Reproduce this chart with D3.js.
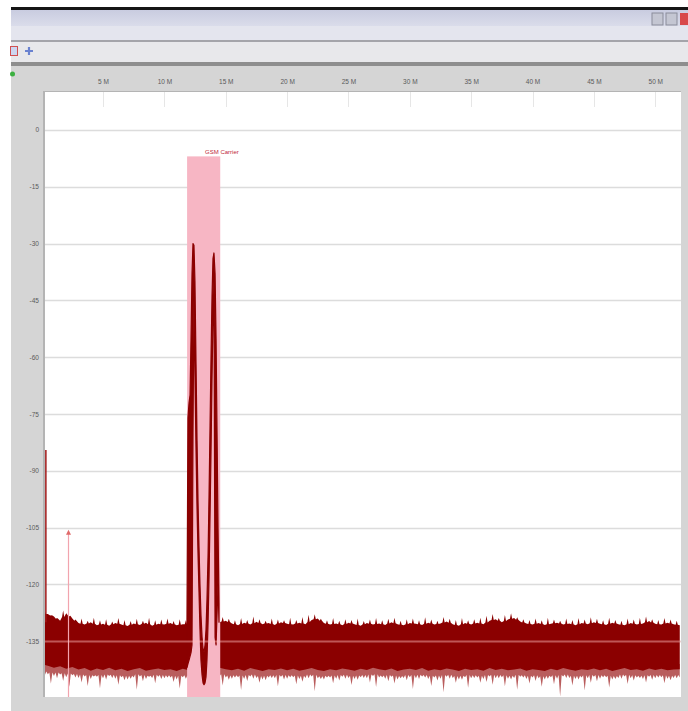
<!DOCTYPE html>
<html>
<head>
<meta charset="utf-8">
<script src="https://cdn.jsdelivr.net/npm/d3@7"></script>
<style>
  html, body { margin: 0; padding: 0; background: #fff; }
  svg { display: block; font-family: "Liberation Sans", Arial, sans-serif; }
</style>
</head>
<body>
<div id="chart"></div>
<script>
// ---- data ----
var freqTicks = [5, 10, 15, 20, 25, 30, 35, 40, 45, 50];            // MHz
var levelTicks = [0, -15, -30, -45, -60, -75, -90, -105, -120, -135]; // dB

// noise floor envelope, bins every 0.5 MHz starting at 0.5 MHz
var noiseTop = [
  -127.8,-128.5,-129.6,-127.6,-129.0,-130.2,-130.6,-130.0,-130.8,-130.4,
  -130.9,-130.2,-130.6,-131.0,-130.3,-130.7,-130.1,-130.9,-130.4,-130.6,
  -130.2,-130.8,-130.5,-130.6,-130.4,-130.7,-130.2,-130.5,-130.0,-129.6,
  -130.3,-130.8,-130.1,-130.6,-129.9,-130.5,-130.2,-130.7,-130.0,-130.4,
  -130.6,-130.1,-130.5,-129.4,-129.0,-130.2,-130.6,-130.3,-130.8,-130.1,
  -130.5,-130.9,-130.2,-130.6,-130.3,-130.7,-130.0,-130.5,-130.8,-130.2,
  -130.4,-130.7,-130.1,-130.6,-130.3,-129.8,-130.5,-130.9,-130.2,-130.6,
  -130.1,-130.5,-129.6,-129.2,-130.0,-129.3,-128.9,-129.8,-130.3,-130.6,
  -130.2,-130.7,-130.4,-130.1,-130.6,-130.3,-130.8,-130.2,-130.5,-130.0,
  -130.4,-130.7,-130.1,-130.5,-130.8,-130.2,-130.6,-130.3,-129.7,-130.4,
  -130.6,-130.1,-130.5,-130.8
];
var noiseBottom = [
  -141.5,-142.0,-141.6,-142.3,-141.8,-142.5,-142.1,-142.8,-142.2,-142.6,
  -142.0,-142.7,-142.3,-142.9,-142.4,-142.1,-142.8,-142.5,-142.2,-142.6,
  -142.4,-142.9,-142.3,-142.7,-142.5,-142.8,-142.2,-142.6,-142.0,-142.4,
  -142.7,-142.3,-142.8,-142.1,-142.5,-142.9,-142.4,-142.6,-142.2,-142.7,
  -142.3,-142.8,-142.5,-142.1,-142.6,-142.9,-142.4,-142.7,-142.2,-142.5,
  -142.8,-142.3,-142.6,-142.0,-142.4,-142.7,-142.2,-142.9,-142.5,-142.3,
  -142.6,-142.1,-142.8,-142.4,-142.7,-142.2,-142.5,-142.9,-142.3,-142.6,
  -142.4,-142.8,-142.1,-142.6,-142.3,-142.7,-142.5,-142.2,-142.8,-142.4,
  -142.6,-142.9,-142.3,-142.7,-142.1,-142.5,-142.8,-142.4,-142.6,-142.2,
  -142.7,-142.3,-142.9,-142.5,-142.1,-142.6,-142.4,-142.8,-142.2,-142.6,
  -142.3,-142.7,-142.5,-142.4
];
// peaks between the bins above (bins every 0.5 MHz starting at 0.25 MHz)
var noisePeaks = [
  -127.0,-128.2,-128.9,-126.9,-128.4,-129.3,-129.0,-129.6,-128.8,-129.5,
  -129.2,-129.8,-128.9,-129.4,-129.7,-129.1,-129.6,-128.8,-129.5,-129.3,
  -129.0,-129.7,-129.2,-129.5,-128.9,-129.6,-129.3,-128.7,-129.4,-128.6,
  -129.1,-129.5,-128.9,-129.4,-128.5,-129.2,-129.6,-129.0,-129.3,-129.5,
  -128.8,-129.4,-128.6,-128.0,-127.9,-129.1,-129.5,-128.9,-129.6,-129.2,
  -129.4,-129.0,-129.7,-129.3,-128.9,-129.5,-129.1,-128.8,-129.6,-129.2,
  -129.0,-129.5,-128.7,-129.3,-129.6,-128.6,-129.1,-129.4,-128.9,-129.5,
  -129.2,-128.8,-128.3,-127.8,-128.9,-128.1,-127.6,-128.7,-129.2,-129.4,
  -129.0,-129.5,-128.8,-129.3,-129.6,-129.0,-129.4,-128.9,-129.3,-128.7,
  -129.1,-129.5,-128.8,-129.4,-129.6,-129.0,-129.3,-128.8,-128.5,-129.2,
  -129.4,-128.9,-129.3,-129.6
];
// downward spikes below the band (same 0.25 MHz offset bins)
var noiseDips = [
  -144.0,-146.2,-144.8,-145.5,-147.0,-144.6,-145.9,-146.8,-144.3,-147.4,
  -145.1,-144.7,-146.5,-145.3,-144.9,-147.8,-145.6,-144.4,-146.1,-145.0,
  -144.6,-145.8,-147.5,-144.9,-145.4,-146.3,-144.5,-145.9,-144.8,-146.7,
  -145.2,-144.6,-147.9,-145.5,-144.9,-146.0,-145.3,-144.7,-146.9,-145.1,
  -144.5,-146.4,-145.7,-144.8,-148.2,-145.0,-144.6,-146.1,-145.4,-144.9,
  -146.6,-145.2,-144.7,-145.9,-147.1,-144.5,-145.6,-146.2,-144.8,-145.3,
  -147.6,-145.0,-144.6,-146.8,-145.4,-148.5,-144.9,-146.0,-145.2,-147.3,
  -144.7,-146.0,-145.8,-146.5,-144.8,-146.9,-145.1,-147.8,-144.6,-146.2,
  -145.5,-147.0,-144.9,-146.4,-149.6,-144.7,-146.7,-145.1,-148.0,-146.0,
  -145.6,-144.5,-147.2,-145.0,-144.9,-146.3,-145.4,-144.7,-145.9,-145.2,
  -144.6,-146.1,-145.3,-144.8
];

// the carrier itself: min/max envelope per display column
var carrierFreq = [11.84,11.92,12.01,12.09,12.17,12.25,12.33,12.41,12.49,12.58,12.66,12.74,
                   12.82,12.90,12.98,13.07,13.15,13.23,13.31,13.39,13.47,13.56,13.64,13.72,
                   13.80,13.88,13.96,14.04,14.13,14.21,14.29,14.37,14.45];
var carrierHi = [-130,-76,-72,-70,-55,-38,-30,-30.5,-40,-62,-82,-98,
                 -110,-120,-128,-134,-137,-138,-136,-132,-124,-112,-96,-78,
                 -60,-44,-34,-32.5,-38,-55,-80,-105,-125];
var carrierLo = [-142,-141,-140,-139,-138,-136,-80,-45,-65,-85,-100,-112,
                 -122,-132,-140,-144,-146,-146.5,-146,-144.5,-140,-130,-118,-102,
                 -85,-66,-50,-40,-134,-136,-128,-120,-130];

var carrierBand = [11.85, 14.55];   // MHz
var carrierBandTop = -7;            // dB
var carrierLabel = "GSM Carrier";

var edgeSpike = { freq: 0.3, level: -84.5 };
var marker = { freq: 2.14, level: -106.5 };

// ---- layout ----
var W = 688, H = 711;
var plot = { left: 45, right: 681, top: 92, bottom: 697 };

var svg = d3.select("#chart").append("svg").attr("width", W).attr("height", H);

// window chrome
svg.append("rect").attr("x", 0).attr("y", 0).attr("width", W).attr("height", H).attr("fill", "#fff");
svg.append("rect").attr("x", 11).attr("y", 7).attr("width", W - 11).attr("height", 3).attr("fill", "#151515");
var grad = svg.append("defs").append("linearGradient").attr("id", "title").attr("x1", 0).attr("y1", 0).attr("x2", 0).attr("y2", 1);
grad.append("stop").attr("offset", "0%").attr("stop-color", "#c9cce0");
grad.append("stop").attr("offset", "100%").attr("stop-color", "#dadcea");
svg.append("rect").attr("x", 11).attr("y", 10).attr("width", W - 11).attr("height", 16).attr("fill", "url(#title)");
svg.append("rect").attr("x", 11).attr("y", 26).attr("width", W - 11).attr("height", 14).attr("fill", "#e4e5ee");
svg.append("rect").attr("x", 11).attr("y", 40).attr("width", W - 11).attr("height", 2).attr("fill", "#a4a4aa");
svg.append("rect").attr("x", 11).attr("y", 42).attr("width", W - 11).attr("height", 20).attr("fill", "#e8e8eb");
svg.append("rect").attr("x", 11).attr("y", 62).attr("width", W - 11).attr("height", 4).attr("fill", "#8e8e8e");
svg.append("rect").attr("x", 11).attr("y", 66).attr("width", W - 11).attr("height", H - 66).attr("fill", "#d5d5d5");
// title bar buttons
svg.append("rect").attr("x", 652).attr("y", 13).attr("width", 11).attr("height", 12).attr("fill", "#c4c6d2").attr("stroke", "#8a8c9a");
svg.append("rect").attr("x", 666).attr("y", 13).attr("width", 11).attr("height", 12).attr("fill", "#c4c6d2").attr("stroke", "#8a8c9a");
svg.append("rect").attr("x", 680).attr("y", 13).attr("width", 8).attr("height", 12).attr("fill", "#d8484a");
// toolbar icons
svg.append("rect").attr("x", 10.5).attr("y", 46.5).attr("width", 7).attr("height", 9).attr("fill", "#cdd6f0").attr("stroke", "#d05050");
svg.append("path").attr("d", "M25,51 h8 M29,47 v8").attr("stroke", "#6a82d0").attr("stroke-width", 2.2);
svg.append("circle").attr("cx", 12.5).attr("cy", 74).attr("r", 2.5).attr("fill", "#3cb040");

// plot background and frame
svg.append("rect").attr("x", plot.left - 2).attr("y", plot.top - 1).attr("width", plot.right - plot.left + 2).attr("height", plot.bottom - plot.top + 1).attr("fill", "#b4b4b4");
svg.append("rect").attr("x", plot.left).attr("y", plot.top).attr("width", plot.right - plot.left).attr("height", plot.bottom - plot.top).attr("fill", "#fff");

var x = d3.scaleLinear().domain([0.27, 52.1]).range([plot.left, plot.right]);
var y = d3.scaleLinear().domain([-150, 10]).range([698, plot.top]);

svg.append("clipPath").attr("id", "clip").append("rect")
  .attr("x", plot.left).attr("y", plot.top).attr("width", plot.right - plot.left).attr("height", plot.bottom - plot.top);
var g = svg.append("g").attr("clip-path", "url(#clip)");

// grid
g.selectAll("line.grid").data(levelTicks).enter().append("line").attr("class", "grid")
  .attr("x1", plot.left).attr("x2", plot.right)
  .attr("y1", function(d) { return Math.round(y(d)) + 0.5; })
  .attr("y2", function(d) { return Math.round(y(d)) + 0.5; })
  .attr("stroke", "#dcdcdc").attr("stroke-width", 1.3);
g.selectAll("line.ftick").data(freqTicks).enter().append("line").attr("class", "ftick")
  .attr("x1", function(d) { return Math.round(x(d)) + 0.5; })
  .attr("x2", function(d) { return Math.round(x(d)) + 0.5; })
  .attr("y1", plot.top).attr("y2", plot.top + 15)
  .attr("stroke", "#e6e6e6");

// axes labels
var xAxis = d3.axisTop(x).tickValues(freqTicks).tickSize(0).tickFormat(function(d) { return d + " M"; });
var xa = svg.append("g").attr("transform", "translate(0," + 87 + ")").call(xAxis);
xa.select(".domain").remove();
xa.selectAll("text").attr("font-size", 6.5).attr("fill", "#5a5a5a").attr("font-family", "Liberation Sans, Arial, sans-serif");

var yAxis = d3.axisLeft(y).tickValues(levelTicks).tickSize(0).tickPadding(4).tickFormat(function(d) { return String(d); });
var ya = svg.append("g").attr("transform", "translate(" + (plot.left - 2) + ",0)").call(yAxis);
ya.select(".domain").remove();
ya.selectAll("text").attr("font-size", 6.5).attr("fill", "#5a5a5a").attr("font-family", "Liberation Sans, Arial, sans-serif");

// noise floor: dense band, peaks and dips as narrow spikes between the bins
var w = 0.09; // half width of a spike, MHz
var upper = [{ f: 0.27, v: -127.2 }];
var lower = [{ f: 0.27, v: -141.3 }];
var fringe = [{ f: 0.27, v: -141.3 }];
noiseTop.forEach(function(v, i) {
  var fc = 0.25 + i * 0.5, prevTop = i ? noiseTop[i - 1] : v, prevBot = i ? noiseBottom[i - 1] : noiseBottom[i];
  upper.push({ f: fc - w, v: (prevTop + v) / 2 }, { f: fc, v: noisePeaks[i] }, { f: fc + w, v: (prevTop + v) / 2 });
  upper.push({ f: 0.5 + i * 0.5, v: v });
  lower.push({ f: 0.5 + i * 0.5, v: noiseBottom[i] });
  var base = (prevBot + noiseBottom[i]) / 2 - 1.5;
  fringe.push({ f: fc - w * 1.4, v: base }, { f: fc, v: noiseDips[i] }, { f: fc + w * 1.4, v: base });
  fringe.push({ f: 0.5 + i * 0.5, v: noiseBottom[i] - 2.2 });
});
var line = d3.line().x(function(d) { return x(d.f); }).y(function(d) { return y(d.v); });
var bandPath = line(upper) + "L" + lower.slice().reverse().map(function(d) { return x(d.f) + "," + y(d.v); }).join("L") + "Z";

var fringeArea = d3.area().x(function(d) { return x(d.f); }).y0(y(-141)).y1(function(d) { return y(d.v); });
g.append("path").datum(fringe).attr("d", fringeArea).attr("fill", "#a83434").attr("opacity", 0.8);
g.append("path").attr("d", bandPath).attr("fill", "#8b0000");

// spike at the left edge
g.append("line").attr("x1", x(edgeSpike.freq) + 0.5).attr("x2", x(edgeSpike.freq) + 0.5)
  .attr("y1", y(edgeSpike.level)).attr("y2", y(-130))
  .attr("stroke", "#a01818").attr("stroke-width", 1.5);

// marker
g.append("line").attr("x1", Math.round(x(marker.freq)) + 0.5).attr("x2", Math.round(x(marker.freq)) + 0.5)
  .attr("y1", y(marker.level)).attr("y2", plot.bottom)
  .attr("stroke", "#f2a4ae").attr("stroke-width", 1.2);
svg.append("path").attr("transform", "translate(" + (Math.round(x(marker.freq)) + 0.5) + "," + y(marker.level) + ")")
  .attr("d", "M0,-3.5 L2.5,1.5 L-2.5,1.5 Z").attr("fill", "#e06a6a");

// carrier band
g.append("rect").attr("x", x(carrierBand[0])).attr("width", x(carrierBand[1]) - x(carrierBand[0]))
  .attr("y", y(carrierBandTop)).attr("height", plot.bottom - y(carrierBandTop))
  .attr("fill", "#f7b6c4");
svg.append("text").attr("x", x(carrierBand[0]) + 18).attr("y", y(carrierBandTop) - 2.5)
  .attr("font-size", 6).attr("fill", "#c02838").text(carrierLabel);

var carrier = carrierFreq.map(function(f, i) { return { f: f, hi: carrierHi[i], lo: carrierLo[i] }; });
var env = d3.area().x(function(d) { return x(d.f); }).y0(function(d) { return y(d.lo); }).y1(function(d) { return y(d.hi); });
g.append("path").datum(carrier).attr("d", env).attr("fill", "#8b0000")
  .attr("stroke", "#8b0000").attr("stroke-width", 1.2).attr("stroke-linejoin", "round");

// trace highlight where the -135 grid line crosses the band
g.append("line").attr("x1", plot.left).attr("x2", plot.right)
  .attr("y1", Math.round(y(-135)) + 0.5).attr("y2", Math.round(y(-135)) + 0.5)
  .attr("stroke", "rgba(255,190,190,0.45)").attr("stroke-width", 2);
</script>
</body>
</html>
